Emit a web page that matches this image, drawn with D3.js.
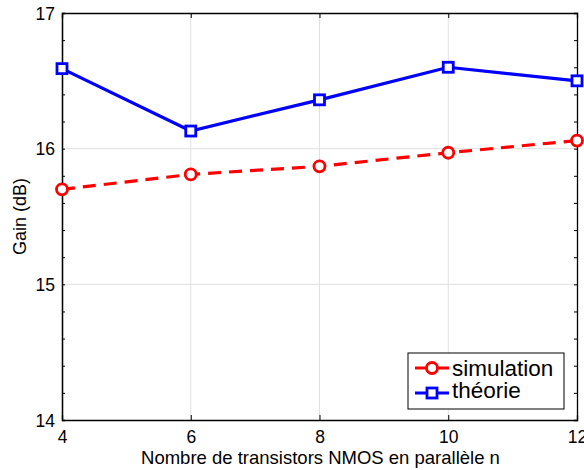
<!DOCTYPE html>
<html>
<head>
<meta charset="utf-8">
<script src="https://cdn.jsdelivr.net/npm/d3@7/dist/d3.min.js"></script>
<style>
  html, body { margin: 0; padding: 0; background: #fff; }
  svg { display: block; font-family: "Liberation Sans", Arial, sans-serif; }
</style>
</head>
<body>
<svg id="chart" width="584" height="470"></svg>
<script>
// Number of parallel NMOS transistors
const nValues = [4, 6, 8, 10, 12];
// Gain (dB)
const simulation = [15.70, 15.81, 15.87, 15.97, 16.06];
const theorie = [16.59, 16.13, 16.36, 16.60, 16.50];
const xTicks = [4, 6, 8, 10, 12];
const yTicks = [14, 15, 16, 17];
const seriesNames = ["simulation", "théorie"];

const svg = d3.select("#chart");
const m = { left: 62, right: 577, top: 13, bottom: 420 };

const x = d3.scaleLinear().domain([4, 12]).range([m.left, m.right]);
const y = d3.scaleLinear().domain([14, 17]).range([m.bottom, m.top]);

// grid
const grid = svg.append("g").attr("stroke", "#e0e0e0").attr("stroke-width", 1);
xTicks.slice(1, -1).forEach(t => {
  grid.append("line").attr("x1", x(t)).attr("x2", x(t)).attr("y1", m.top).attr("y2", m.bottom);
});
yTicks.slice(1, -1).forEach(t => {
  grid.append("line").attr("x1", m.left).attr("x2", m.right).attr("y1", y(t)).attr("y2", y(t));
});

// axes
const axB = svg.append("g").attr("transform", `translate(0,${m.bottom})`)
  .call(d3.axisBottom(x).tickValues(xTicks).tickSize(-5).tickPadding(11).tickFormat(d3.format("d")));
const axT = svg.append("g").attr("transform", `translate(0,${m.top})`)
  .call(d3.axisTop(x).tickValues(xTicks).tickSize(-5).tickFormat(""));
const minorY = d3.range(14, 17.001, 0.2);
const axL = svg.append("g").attr("transform", `translate(${m.left},0)`)
  .call(d3.axisLeft(y).tickValues(yTicks).tickSize(0).tickPadding(7).tickFormat(d3.format("d")));
axL.append("g").call(d3.axisLeft(y).tickValues(minorY).tickSize(-3).tickFormat(""));
const axR = svg.append("g").attr("transform", `translate(${m.right},0)`)
  .call(d3.axisRight(y).tickValues(minorY).tickSize(-3).tickFormat(""));

[axB, axT, axL, axR].forEach(a => {
  a.selectAll("path.domain").attr("stroke", "#000").attr("stroke-width", 1.3);
  a.selectAll("line").attr("stroke", "#000");
  a.selectAll("text").attr("fill", "#000").style("font-size", "17.5px")
    .style("font-family", "Liberation Sans, Arial, sans-serif");
});
axL.selectAll(".tick text").attr("dy", "0.35em");
axB.selectAll(".tick text").attr("dy", "0.71em");

// axis labels
svg.append("text").attr("x", (m.left + m.right) / 2 + 1).attr("y", 464)
  .attr("text-anchor", "middle").style("font-size", "18.5px")
  .text("Nombre de transistors NMOS en parallèle n");
svg.append("text").attr("transform", `translate(26,${(m.top + m.bottom) / 2}) rotate(-90)`)
  .attr("text-anchor", "middle").style("font-size", "18px")
  .text("Gain (dB)");

const line = d3.line().x((d, i) => x(nValues[i])).y(d => y(d));

// simulation: red dashed with circles
svg.append("path").datum(simulation).attr("d", line)
  .attr("fill", "none").attr("stroke", "#ff0000").attr("stroke-width", 3.2)
  .attr("stroke-dasharray", "13,8");
svg.append("g").selectAll("circle").data(simulation).join("circle")
  .attr("cx", (d, i) => x(nValues[i])).attr("cy", d => y(d)).attr("r", 5.5)
  .attr("fill", "#fff").attr("stroke", "#ff0000").attr("stroke-width", 2.8);

// théorie: blue solid with squares
svg.append("path").datum(theorie).attr("d", line)
  .attr("fill", "none").attr("stroke", "#0000ff").attr("stroke-width", 3.2);
svg.append("g").selectAll("rect").data(theorie).join("rect")
  .attr("x", (d, i) => x(nValues[i]) - 5).attr("y", d => y(d) - 5)
  .attr("width", 10).attr("height", 10)
  .attr("fill", "#fff").attr("stroke", "#0000ff").attr("stroke-width", 2.8);

// legend
const lg = svg.append("g");
lg.append("rect").attr("x", 408).attr("y", 353).attr("width", 156).attr("height", 56)
  .attr("fill", "#fff").attr("stroke", "#000").attr("stroke-width", 1);
const rows = [
  { name: seriesNames[0], color: "#ff0000", y: 368, ty: 376, mark: "circle", dash: true },
  { name: seriesNames[1], color: "#0000ff", y: 393, ty: 398, mark: "rect", dash: false }
];
rows.forEach(r => {
  lg.append("line").attr("x1", 415).attr("x2", 449).attr("y1", r.y).attr("y2", r.y)
    .attr("stroke", r.color).attr("stroke-width", 3.2)
    .attr("stroke-dasharray", r.dash ? "12,10,12" : null);
  if (r.mark === "circle") {
    lg.append("circle").attr("cx", 432).attr("cy", r.y).attr("r", 5.5)
      .attr("fill", "#fff").attr("stroke", r.color).attr("stroke-width", 2.8);
  } else {
    lg.append("rect").attr("x", 427).attr("y", r.y - 5).attr("width", 10).attr("height", 10)
      .attr("fill", "#fff").attr("stroke", r.color).attr("stroke-width", 2.8);
  }
  lg.append("text").attr("x", 452).attr("y", r.ty)
    .style("font-size", "22.5px").text(r.name);
});
</script>
</body>
</html>
